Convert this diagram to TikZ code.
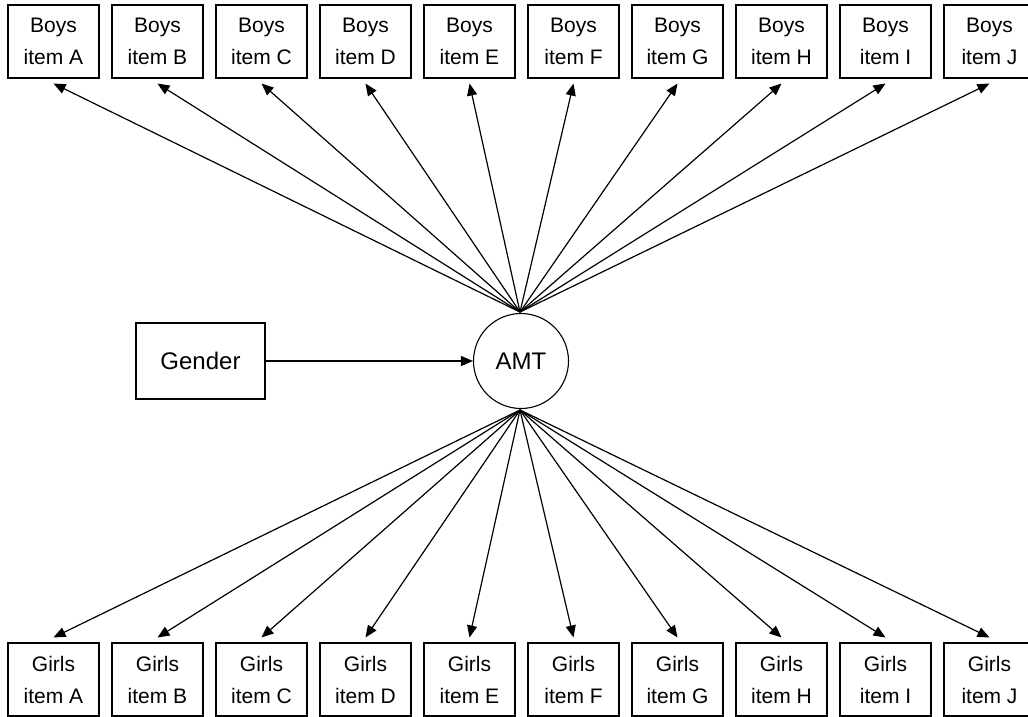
\documentclass[tikz,border=0pt]{standalone}
\usepackage{fontspec}
\setmainfont{Liberation Sans}
\usetikzlibrary{arrows.meta}
\begin{document}
\begin{tikzpicture}[x=1pt,y=-1pt,
  itembox/.style={draw, line width=1.1pt, minimum width=91pt, minimum height=73pt, inner sep=0pt, align=center, font=\fontsize{21}{32}\selectfont},
  conn/.style={line width=1.2pt, -{Triangle[length=12pt,width=10pt]}},
  bigtext/.style={font=\fontsize{24}{28}\selectfont}]
\useasboundingbox (0,0) rectangle (1028,716);
\clip (0,0) rectangle (1028,716);
\fill[white] (0,0) rectangle (1028,716);
\foreach \L [count=\i from 0] in {A,B,C,D,E,F,G,H,I,J} {
  \node[itembox] (b\L) at (53.5+104*\i, 41.5) {Boys\\item \L};
  \node[itembox] (g\L) at (53.5+104*\i, 679.5) {Girls\\item \L};
}
\node[draw, line width=1.1pt, circle, minimum size=95pt, inner sep=0pt, bigtext] (amt) at (521,361) {AMT};
\node[draw, line width=1.1pt, minimum width=129pt, minimum height=76pt, bigtext] (gender) at (200.5,361) {Gender};
\coordinate (amttop) at (520,312);
\coordinate (amtbot) at (520,410);
\foreach \L in {A,B,C,D,E,F,G,H,I,J} {
  \draw[conn] (amttop) -- ([yshift=-5pt]b\L.south);
  \draw[conn] (amtbot) -- ([yshift=5pt]g\L.north);
}
\draw[conn] (gender.east) -- (amt.west);
\end{tikzpicture}
\end{document}
